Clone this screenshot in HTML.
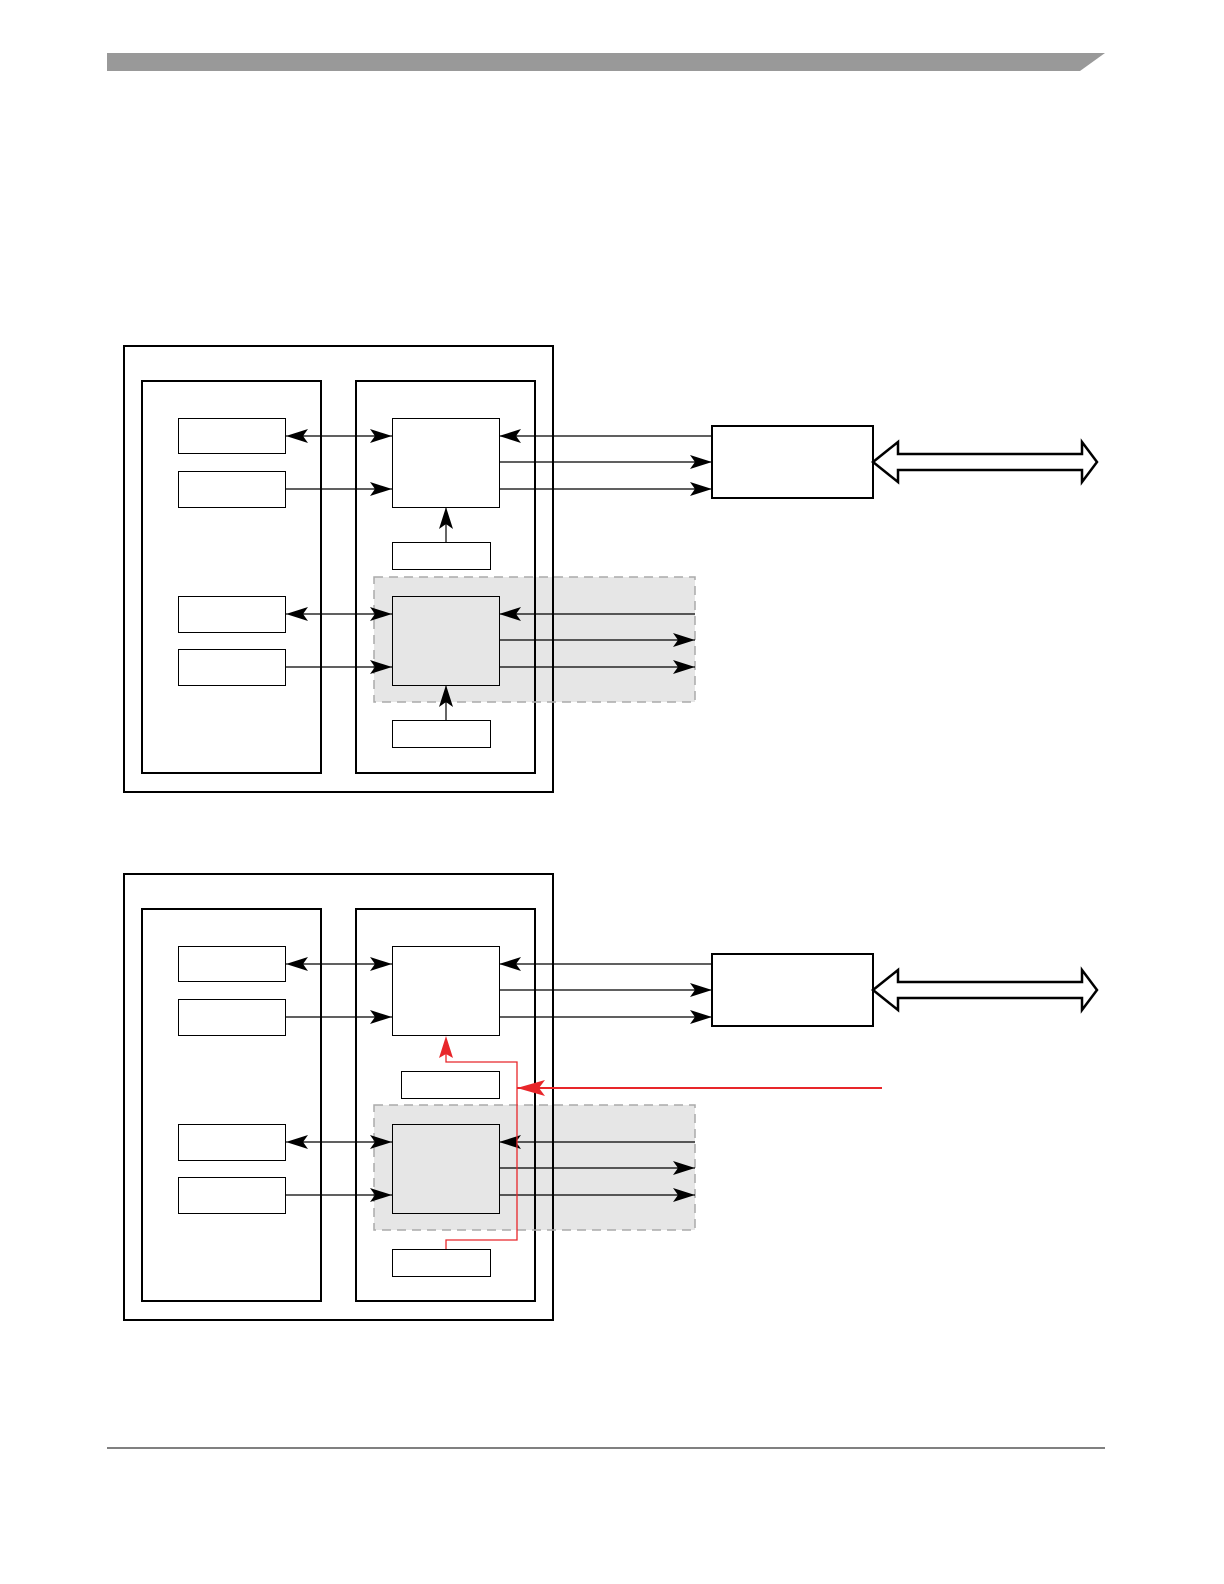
<!DOCTYPE html>
<html><head><meta charset="utf-8"><style>html,body{margin:0;padding:0;background:#fff}svg{display:block}</style></head>
<body>
<svg width="1224" height="1584" viewBox="0 0 1224 1584" xmlns="http://www.w3.org/2000/svg">
<defs>
<marker id="a" viewBox="0 0 22 14" refX="22" refY="7" markerWidth="22" markerHeight="14" markerUnits="userSpaceOnUse" orient="auto-start-reverse">
<path d="M0,0 L22,7 L0,14 L5,7 Z" fill="#000"/></marker>
<marker id="r" viewBox="0 0 28 16" refX="28" refY="8" markerWidth="28" markerHeight="16" markerUnits="userSpaceOnUse" orient="auto">
<path d="M0,0 L28,8 L0,16 L6,8 Z" fill="#e8262a"/></marker>
<g id="d">
<rect x="374" y="577" width="321" height="125" fill="#e6e6e6"/>
<rect x="124" y="346" width="429" height="446" fill="none" stroke="#000" stroke-width="2"/>
<rect x="142" y="381" width="179" height="392" fill="none" stroke="#000" stroke-width="2"/>
<rect x="356" y="381" width="179" height="392" fill="none" stroke="#000" stroke-width="2"/>
<rect x="374" y="577" width="321" height="125" fill="none" stroke="#aaa" stroke-width="1.5" stroke-dasharray="9,6"/>
<g fill="#fff" stroke="#000" stroke-width="1">
<rect x="178.5" y="418.5" width="107" height="35"/>
<rect x="178.5" y="471.5" width="107" height="36"/>
<rect x="178.5" y="596.5" width="107" height="36"/>
<rect x="178.5" y="649.5" width="107" height="36"/>
<rect x="392.5" y="418.5" width="107" height="89"/>
<rect x="392.5" y="596.5" width="107" height="89" fill="#e6e6e6"/>
</g>
<rect x="712" y="426" width="161" height="72" fill="#fff" stroke="#000" stroke-width="2"/>
<path d="M873,462 L898,442 L898,454 L1082,454 L1082,442 L1097,462 L1082,482 L1082,470 L898,470 L898,482 Z" fill="#fff" stroke="#000" stroke-width="2.5" stroke-linejoin="miter"/>
<g stroke="#000" stroke-width="1.2" fill="none">
<line x1="286" y1="436" x2="392" y2="436" marker-start="url(#a)" marker-end="url(#a)"/>
<line x1="712" y1="436" x2="499" y2="436" marker-end="url(#a)"/>
<line x1="499" y1="462" x2="712" y2="462" marker-end="url(#a)"/>
<line x1="286" y1="489" x2="392" y2="489" marker-end="url(#a)"/>
<line x1="499" y1="489" x2="712" y2="489" marker-end="url(#a)"/>
<line x1="286" y1="614" x2="392" y2="614" marker-start="url(#a)" marker-end="url(#a)"/>
<line x1="695" y1="614" x2="499" y2="614" marker-end="url(#a)"/>
<line x1="499" y1="640" x2="695" y2="640" marker-end="url(#a)"/>
<line x1="286" y1="667" x2="392" y2="667" marker-end="url(#a)"/>
<line x1="499" y1="667" x2="695" y2="667" marker-end="url(#a)"/>
</g>
</g>
</defs>
<polygon points="107,53 1105,53 1080,71 107,71" fill="#999"/>
<line x1="107" y1="1448" x2="1105" y2="1448" stroke="#000" stroke-width="1"/>

<use href="#d"/>
<g fill="#fff" stroke="#000" stroke-width="1">
<rect x="392.5" y="542.5" width="98" height="27"/>
<rect x="392.5" y="720.5" width="98" height="27"/>
</g>
<line x1="446" y1="542" x2="446" y2="507" stroke="#000" stroke-width="1.2" marker-end="url(#a)"/>
<line x1="446" y1="720" x2="446" y2="685" stroke="#000" stroke-width="1.2" marker-end="url(#a)"/>

<g transform="translate(0,528)"><use href="#d"/></g>
<g fill="#fff" stroke="#000" stroke-width="1">
<rect x="401.5" y="1071.5" width="98" height="27"/>
<rect x="392.5" y="1249.5" width="98" height="27"/>
</g>
<path d="M446,1249 L446,1240 L517,1240 L517,1062 L446,1062 L446,1044" fill="none" stroke="#e8262a" stroke-width="1.3"/>
<path d="M446,1036 L453,1058 L446,1054 L439,1058 Z" fill="#e8262a"/>
<line x1="882" y1="1088" x2="517" y2="1088" stroke="#e8262a" stroke-width="2" marker-end="url(#r)"/>
</svg>
</body></html>
